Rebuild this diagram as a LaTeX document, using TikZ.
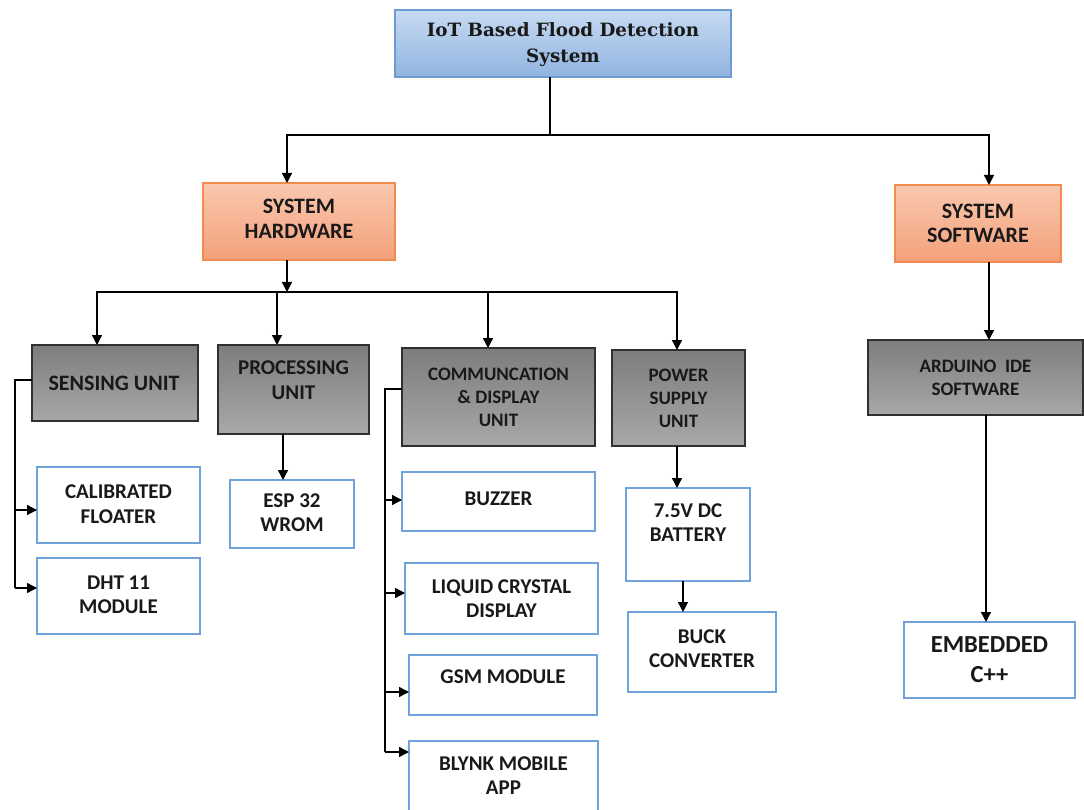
\documentclass[tikz,border=0pt]{standalone}
\usepackage{fontspec}
\setmainfont{Carlito}
\newfontfamily\titlefont{DejaVu Serif}
\usetikzlibrary{fit,arrows.meta}
\definecolor{bluetop}{HTML}{C7DAF2}
\definecolor{bluebot}{HTML}{90B4E0}
\definecolor{blueedge}{HTML}{6E9BD0}
\definecolor{ortop}{HTML}{F9C8AE}
\definecolor{orbot}{HTML}{F4A07A}
\definecolor{oredge}{HTML}{F18B4E}
\definecolor{graytop}{HTML}{7D7D7D}
\definecolor{graybot}{HTML}{A8A8A8}
\definecolor{grayedge}{HTML}{303030}
\definecolor{leafedge}{HTML}{6FA3DA}
\tikzset{
  base/.style={inner sep=0pt, outer sep=0pt, line width=1.3pt},
  titlebox/.style={base, draw=blueedge, top color=bluetop, bottom color=bluebot},
  orbox/.style={base, draw=oredge, top color=ortop, bottom color=orbot},
  graybox/.style={base, draw=grayedge, top color=graytop, bottom color=graybot},
  leaf/.style={base, draw=leafedge, fill=white},
  txt/.style={inner sep=0pt, align=center, font=\bfseries\fontsize{21}{24.5}\selectfont, text=black!90},
  txtl/.style={inner sep=0pt, align=center, font=\bfseries\fontsize{22}{24.5}\selectfont, text=black!90},
  txts/.style={inner sep=0pt, align=center, font=\bfseries\fontsize{19}{23}\selectfont, text=black!90},
  ln/.style={line width=1.4pt, black},
  arr/.style={ln, -{Triangle[length=10pt,width=10pt]}},
}
\begin{document}
\begin{tikzpicture}[x=1pt,y=-1pt]
\useasboundingbox (0,0) rectangle (1084,810);
% boxes
\node[titlebox, fit={(395,10)(731,77)}] (title) {};
\node[inner sep=0pt, align=center, font=\titlefont\bfseries\fontsize{18.3}{26}\selectfont, text=black!90] (title-t) at ([yshift=-1.5pt]title.center) {IoT Based Flood Detection\\System};

\node[orbox, fit={(203,183)(395,260)}] (hw) {};
\node[txtl] (hw-t) at ([yshift=2.5pt]hw.center) {SYSTEM\\HARDWARE};
\node[orbox, fit={(895,185)(1061,262)}] (sw) {};
\node[txtl] (sw-t) at (sw.center) {SYSTEM\\SOFTWARE};

\node[graybox, fit={(32,345)(198,421)}] (sens) {};
\node[txtl] (sens-t) at ([xshift=-1pt]sens.center) {SENSING UNIT};
\node[graybox, fit={(218,345)(369,434)}] (proc) {};
\node[txt] (proc-t) at ([yshift=9.5pt]proc.center) {PROCESSING\\UNIT};
\node[graybox, fit={(402,348)(595,446)}] (comm) {};
\node[txts] (comm-t) at (comm.center) {COMMUNCATION\\\& DISPLAY\\UNIT};
\node[graybox, fit={(612,350)(745,446)}] (pow) {};
\node[txts] (pow-t) at (pow.center) {POWER\\SUPPLY\\UNIT};
\node[graybox, fit={(868,340)(1083,415)}] (ard) {};
\node[txts] (ard-t) at (ard.center) {ARDUINO~~IDE\\SOFTWARE};

\node[leaf, fit={(37,467)(200,543)}] (cal) {};
\node[txt] (cal-t) at ([yshift=1pt]cal.center) {CALIBRATED\\FLOATER};
\node[leaf, fit={(37,558)(200,634)}] (dht) {};
\node[txt] (dht-t) at ([yshift=1pt]dht.center) {DHT 11\\MODULE};
\node[leaf, fit={(230,480)(354,548)}] (esp) {};
\node[txt] (esp-t) at ([yshift=1.5pt]esp.center) {ESP 32\\WROM};

\node[leaf, fit={(402,472)(595,531)}] (buz) {};
\node[txt] (buz-t) at ([yshift=2.5pt]buz.center) {BUZZER};
\node[leaf, fit={(405,563)(598,634)}] (lcd) {};
\node[txt] (lcd-t) at (lcd.center) {LIQUID CRYSTAL\\DISPLAY};
\node[leaf, fit={(409,655)(597,715)}] (gsm) {};
\node[txt] (gsm-t) at ([yshift=8pt]gsm.center) {GSM MODULE};
\node[leaf, fit={(409,741)(598,812)}] (blynk) {};
\node[txt] (blynk-t) at ([yshift=1pt]blynk.center) {BLYNK MOBILE\\APP};

\node[leaf, fit={(626,488)(750,581)}] (bat) {};
\node[txt] (bat-t) at ([yshift=12pt]bat.center) {7.5V DC\\BATTERY};
\node[leaf, fit={(628,612)(776,692)}] (buck) {};
\node[txt] (buck-t) at ([yshift=3.5pt]buck.center) {BUCK\\CONVERTER};

\node[leaf, fit={(904,622)(1075,698)}] (emb) {};
\node[inner sep=0pt, align=center, font=\bfseries\fontsize{24.5}{30}\selectfont, text=black!90] (emb-t) at (emb.center) {EMBEDDED\\C++};

% connectors
\coordinate (bus1) at (550,135);
\draw[ln] (title.south -| bus1) -- (bus1);
\draw[arr] (bus1) -| (hw.north -| 287,0);
\draw[arr] (bus1) -| (sw.north -| 989,0);

\coordinate (bus2) at (287,292);
\draw[arr] (hw.south -| bus2) -- (bus2);
\draw[arr] (bus2) -| (sens.north -| 97,0);
\draw[arr] (bus2) -| (proc.north -| 277,0);
\draw[arr] (bus2) -| (comm.north -| 488,0);
\draw[arr] (bus2) -| (pow.north -| 677,0);

\coordinate (s0) at (15,380);
\coordinate (s1) at (15,510);
\coordinate (s2) at (15,588);
\draw[ln] (sens.west |- s0) -- (s0) -- (s2);
\draw[arr] (s1) -- (cal.west |- s1);
\draw[arr] (s2) -- (dht.west |- s2);

\draw[arr] (proc.south -| 283,0) -- (esp.north -| 283,0);

\coordinate (c0) at (385,389);
\coordinate (c1) at (385,500);
\coordinate (c2) at (385,593);
\coordinate (c3) at (385,692);
\coordinate (c4) at (385,752);
\draw[ln] (comm.west |- c0) -- (c0) -- (c4);
\draw[arr] (c1) -- (buz.west |- c1);
\draw[arr] (c2) -- (lcd.west |- c2);
\draw[arr] (c3) -- (gsm.west |- c3);
\draw[arr] (c4) -- (blynk.west |- c4);

\draw[arr] (pow.south -| 677,0) -- (bat.north -| 677,0);
\draw[arr] (bat.south -| 683,0) -- (buck.north -| 683,0);

\draw[arr] (sw.south -| 989,0) -- (ard.north -| 989,0);
\draw[arr] (ard.south -| 986,0) -- (emb.north -| 986,0);
\end{tikzpicture}
\end{document}
